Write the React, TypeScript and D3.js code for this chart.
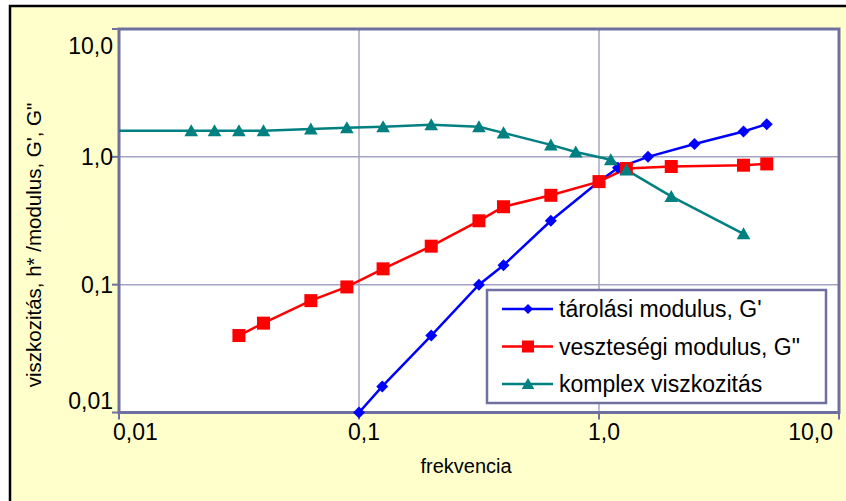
import React from "react";
import * as d3 from "d3";

const xTickValues = [0.01, 0.1, 1, 10];
const xTickLabels = ["0,01", "0,1", "1,0", "10,0"];
const yTickValues = [10, 1, 0.1, 0.01];
const yTickLabels = ["10,0", "1,0", "0,1", "0,01"];

const storageFreq = [0.1, 0.125, 0.2, 0.316, 0.4, 0.63, 1.0, 1.2, 1.6, 2.5, 4.0, 5.0];
const storageMod = [0.01, 0.016, 0.04, 0.1, 0.142, 0.316, 0.64, 0.82, 1.0, 1.26, 1.58, 1.8];

const lossFreq = [0.0316, 0.04, 0.063, 0.089, 0.126, 0.2, 0.316, 0.4, 0.63, 1.0, 1.3, 2.0, 4.0, 5.0];
const lossMod = [0.04, 0.05, 0.075, 0.096, 0.133, 0.2, 0.316, 0.407, 0.5, 0.64, 0.81, 0.84, 0.86, 0.88];

const viscFreq = [0.005, 0.02, 0.025, 0.0316, 0.04, 0.063, 0.089, 0.126, 0.2, 0.316, 0.4, 0.63, 0.8, 1.12, 1.3, 2.0, 4.0];
const viscVal = [1.6, 1.6, 1.6, 1.6, 1.6, 1.65, 1.69, 1.72, 1.78, 1.72, 1.54, 1.24, 1.09, 0.95, 0.79, 0.49, 0.25];

const seriesNames = ["tárolási modulus, G'", 'veszteségi modulus, G"', "komplex viszkozitás"];
const seriesColors = ["#0000FF", "#FF0000", "#008080"];

const FONT = "'Liberation Sans', Arial, sans-serif";
const AXIS = "#7070A0";
const GRID = "#A4A4C4";

function Marker({ kind, x, y, color, s }: { kind: string; x: number; y: number; color: string; s: number }) {
  if (kind === "diamond") {
    return <path d={`M${x},${y - s}L${x + s},${y}L${x},${y + s}L${x - s},${y}Z`} fill={color} />;
  }
  if (kind === "square") {
    return <rect x={x - s} y={y - s} width={2 * s} height={2 * s} fill={color} />;
  }
  return <path d={`M${x},${y - s}L${x + s * 1.05},${y + s * 0.85}L${x - s * 1.05},${y + s * 0.85}Z`} fill={color} />;
}

export default function App() {
  const W = 846, H = 501;
  const left = 119, right = 839, top = 29, bottom = 412.5;
  const x = d3.scaleLog().domain([0.01, 10]).range([left, right]);
  const y = d3.scaleLog().domain([0.01, 10]).range([bottom, top]);

  const series = [
    { f: storageFreq, v: storageMod, kind: "diamond", s: 6, skipFirst: false },
    { f: lossFreq, v: lossMod, kind: "square", s: 6.5, skipFirst: false },
    { f: viscFreq, v: viscVal, kind: "triangle", s: 6.5, skipFirst: true },
  ];

  const line = d3
    .line<[number, number]>()
    .x((d) => x(d[0]))
    .y((d) => y(d[1]));

  return (
    <svg width={W} height={H} style={{ position: "absolute", left: 0, top: 0 }} fontFamily={FONT}>
      <defs>
        <clipPath id="plotclip">
          <rect x={left} y={top} width={right - left} height={bottom - top} />
        </clipPath>
      </defs>
      <rect x={0} y={0} width={W} height={H} fill="#ffffff" />
      <rect x={10} y={6} width={W + 20} height={H + 20} fill="#FFFFCC" stroke="#000" strokeWidth={2.5} />
      <rect x={left} y={top} width={right - left} height={bottom - top} fill="#ffffff" />

      {/* gridlines */}
      {xTickValues.slice(1, -1).map((t) => (
        <line key={"gx" + t} x1={x(t)} x2={x(t)} y1={top} y2={bottom} stroke={GRID} strokeWidth={1.5} />
      ))}
      {yTickValues.slice(1, -1).map((t) => (
        <line key={"gy" + t} x1={left} x2={right} y1={y(t)} y2={y(t)} stroke={GRID} strokeWidth={1.5} />
      ))}

      {/* ticks */}
      {xTickValues.map((t) => (
        <line key={"tx" + t} x1={x(t)} x2={x(t)} y1={bottom} y2={bottom + 7} stroke={AXIS} strokeWidth={2} />
      ))}
      {yTickValues.map((t) => (
        <line key={"ty" + t} x1={left - 7} x2={left} y1={y(t)} y2={y(t)} stroke={AXIS} strokeWidth={2} />
      ))}

      {/* plot border */}
      <rect x={left} y={top} width={right - left} height={bottom - top} fill="none" stroke={AXIS} strokeWidth={3} />

      {/* legend box */}
      <rect x={487} y={290} width={339} height={113} fill="#ffffff" stroke={AXIS} strokeWidth={2.5} />

      {/* series lines */}
      <g clipPath="url(#plotclip)">
        {series.map((s, i) => (
          <path
            key={"l" + i}
            d={line(s.f.map((f, j) => [f, s.v[j]] as [number, number])) || ""}
            fill="none"
            stroke={seriesColors[i]}
            strokeWidth={2.5}
          />
        ))}
      </g>
      {/* markers */}
      {series.map((s, i) =>
        s.f.map((f, j) =>
          s.skipFirst && j === 0 ? null : (
            <Marker key={"m" + i + "-" + j} kind={s.kind} x={x(f)} y={y(s.v[j])} color={seriesColors[i]} s={s.s} />
          )
        )
      )}

      {/* y tick labels */}
      {yTickValues.map((t, i) => {
        const yy = Math.min(Math.max(y(t), top + 17), bottom - 12);
        return (
          <text key={"yl" + t} x={113} y={yy} dy="0.36em" textAnchor="end" fontSize={23} fill="#000">
            {yTickLabels[i]}
          </text>
        );
      })}
      {/* x tick labels */}
      {xTickValues.map((t, i) => {
        const n = xTickValues.length;
        const anchor = i === 0 ? "start" : i === n - 1 ? "end" : "middle";
        const xx = i === 0 ? x(t) - 6 : i === n - 1 ? x(t) - 6 : x(t) + 5;
        return (
          <text key={"xl" + t} x={xx} y={440} textAnchor={anchor} fontSize={23} fill="#000">
            {xTickLabels[i]}
          </text>
        );
      })}

      {/* axis titles */}
      <text x={466} y={473} textAnchor="middle" fontSize={20} fill="#000">
        frekvencia
      </text>
      <text
        transform={`translate(34,245) rotate(-90)`}
        textAnchor="middle"
        dy="0.35em"
        fontSize={20.5}
        fill="#000"
      >
        {'viszkozitás, h* /modulus, G\', G"'}
      </text>

      {/* legend entries */}
      {seriesNames.map((name, i) => {
        const ly = 309 + i * 37.5;
        const kinds = ["diamond", "square", "triangle"];
        const sizes = [5, 6, 6];
        return (
          <g key={"lg" + i}>
            <line x1={502} x2={553} y1={ly} y2={ly} stroke={seriesColors[i]} strokeWidth={2.5} />
            <Marker kind={kinds[i]} x={528} y={ly} color={seriesColors[i]} s={sizes[i]} />
            <text x={559} y={ly} dy="0.36em" fontSize={23} fill="#000">
              {name}
            </text>
          </g>
        );
      })}
    </svg>
  );
}
